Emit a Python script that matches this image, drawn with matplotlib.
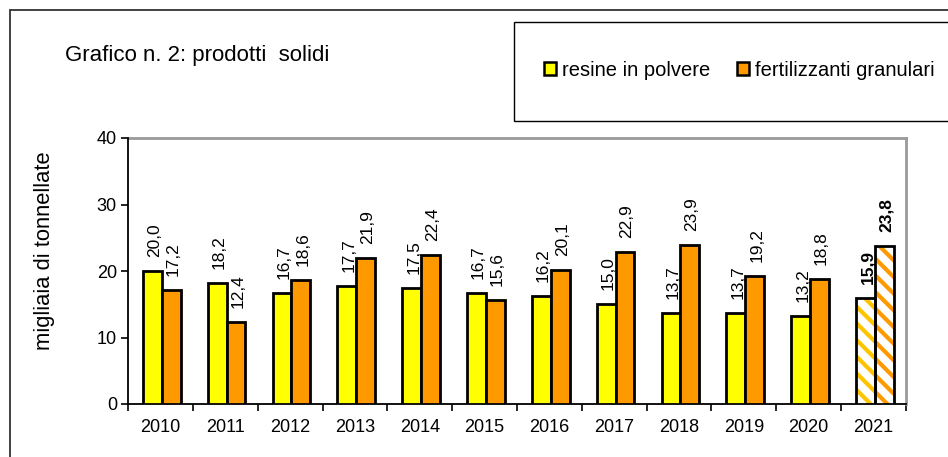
import numpy as np
import matplotlib
matplotlib.use('Agg')
import matplotlib.pyplot as plt
from matplotlib.patches import Rectangle, Patch

plt.rcParams['font.family'] = ['Liberation Sans', 'DejaVu Sans']
plt.rcParams['hatch.linewidth'] = 3.0

# DATA
years = ['2010', '2011', '2012', '2013', '2014', '2015', '2016', '2017', '2018', '2019', '2020', '2021']
resine = [20.0, 18.2, 16.7, 17.7, 17.5, 16.7, 16.2, 15.0, 13.7, 13.7, 13.2, 15.9]
fertilizzanti = [17.2, 12.4, 18.6, 21.9, 22.4, 15.6, 20.1, 22.9, 23.9, 19.2, 18.8, 23.8]
names = ['resine in polvere', 'fertilizzanti granulari']

yellow = '#FFFF00'
orange = '#FF9900'

W, H = 948, 457
fig = plt.figure(figsize=(W / 100, H / 100), dpi=100)
ax = fig.add_axes([128 / W, 1 - 404 / H, (906 - 128) / W, (404 - 138) / H])

x = np.arange(len(years))
bw = 0.29
off = 0.02
n = len(years)
elw = 2.0

# normal years: solid bars, last year hatched
ax.bar(x[:-1] - bw / 2 + off, resine[:-1], bw, color=yellow, edgecolor='black', linewidth=elw, zorder=3)
ax.bar(x[:-1] + bw / 2 + off, fertilizzanti[:-1], bw, color=orange, edgecolor='black', linewidth=elw, zorder=3)

ax.bar(x[-1] - bw / 2 + off, resine[-1], bw, color='white', edgecolor='#FFC400', hatch='\\\\', linewidth=0, zorder=3)
ax.bar(x[-1] - bw / 2 + off, resine[-1], bw, color='none', edgecolor='black', linewidth=elw, zorder=4)
ax.bar(x[-1] + bw / 2 + off, fertilizzanti[-1], bw, color='white', edgecolor='#FF9900', hatch='\\\\', linewidth=0, zorder=3)
ax.bar(x[-1] + bw / 2 + off, fertilizzanti[-1], bw, color='none', edgecolor='black', linewidth=elw, zorder=4)

for i in range(n):
    fw = 'bold' if i == n - 1 else 'normal'
    for xv, v in [(x[i] - bw / 2 + off, resine[i]), (x[i] + bw / 2 + off, fertilizzanti[i])]:
        ax.annotate(f'{v:.1f}'.replace('.', ','), (xv, v), xytext=(1.5, 10), textcoords='offset points',
                    rotation=90, ha='center', va='bottom', fontsize=12.5, fontweight=fw, zorder=6)

ax.set_xlim(-0.5, n - 0.5)
ax.set_ylim(0, 40)
ax.set_yticks([0, 10, 20, 30, 40])
ax.tick_params(axis='y', labelsize=13, length=5, width=1.2, direction='out', pad=3)
ax.set_xticks(x)
ax.set_xticklabels(years)
ax.tick_params(axis='x', which='major', length=0, labelsize=13, pad=11)
ax.set_xticks(np.arange(-0.5, n, 1), minor=True)
ax.tick_params(axis='x', which='minor', length=5, width=1.2, direction='out')

for s in ['left', 'bottom']:
    ax.spines[s].set_color('black')
    ax.spines[s].set_linewidth(1.3)
for s in ['top', 'right']:
    ax.spines[s].set_color('#999999')
    ax.spines[s].set_linewidth(2)
ax.spines['left'].set_zorder(5)

fig.text(45 / W, 1 - 251 / H, 'migliaia di tonnellate', rotation=90, ha='center', va='center', fontsize=15.8)
fig.text(65 / W, 1 - 55 / H, 'Grafico n. 2: prodotti  solidi', ha='left', va='center', fontsize=16)

# outer frame
fig.patches.append(Rectangle((9.5 / W, -0.2), 1.2, 1.2 - 10 / H, transform=fig.transFigure,
                             fill=False, edgecolor='#333333', linewidth=1.3))
# legend frame
fig.patches.append(Rectangle((514 / W, 1 - 121 / H), 1.0, (121 - 22) / H, transform=fig.transFigure,
                             fill=False, edgecolor='black', linewidth=1.0))

handles = [Patch(facecolor=yellow, edgecolor='black', linewidth=1.8),
           Patch(facecolor=orange, edgecolor='black', linewidth=1.8)]
fig.legend(handles, names, loc='center left', bbox_to_anchor=(544 / W, 1 - 70 / H), ncol=2,
           frameon=False, fontsize=14.5, handlelength=0.6, handleheight=0.6, handletextpad=0.3,
           columnspacing=1.3, borderpad=0, borderaxespad=0)

fig.savefig('out.png', dpi=100)
